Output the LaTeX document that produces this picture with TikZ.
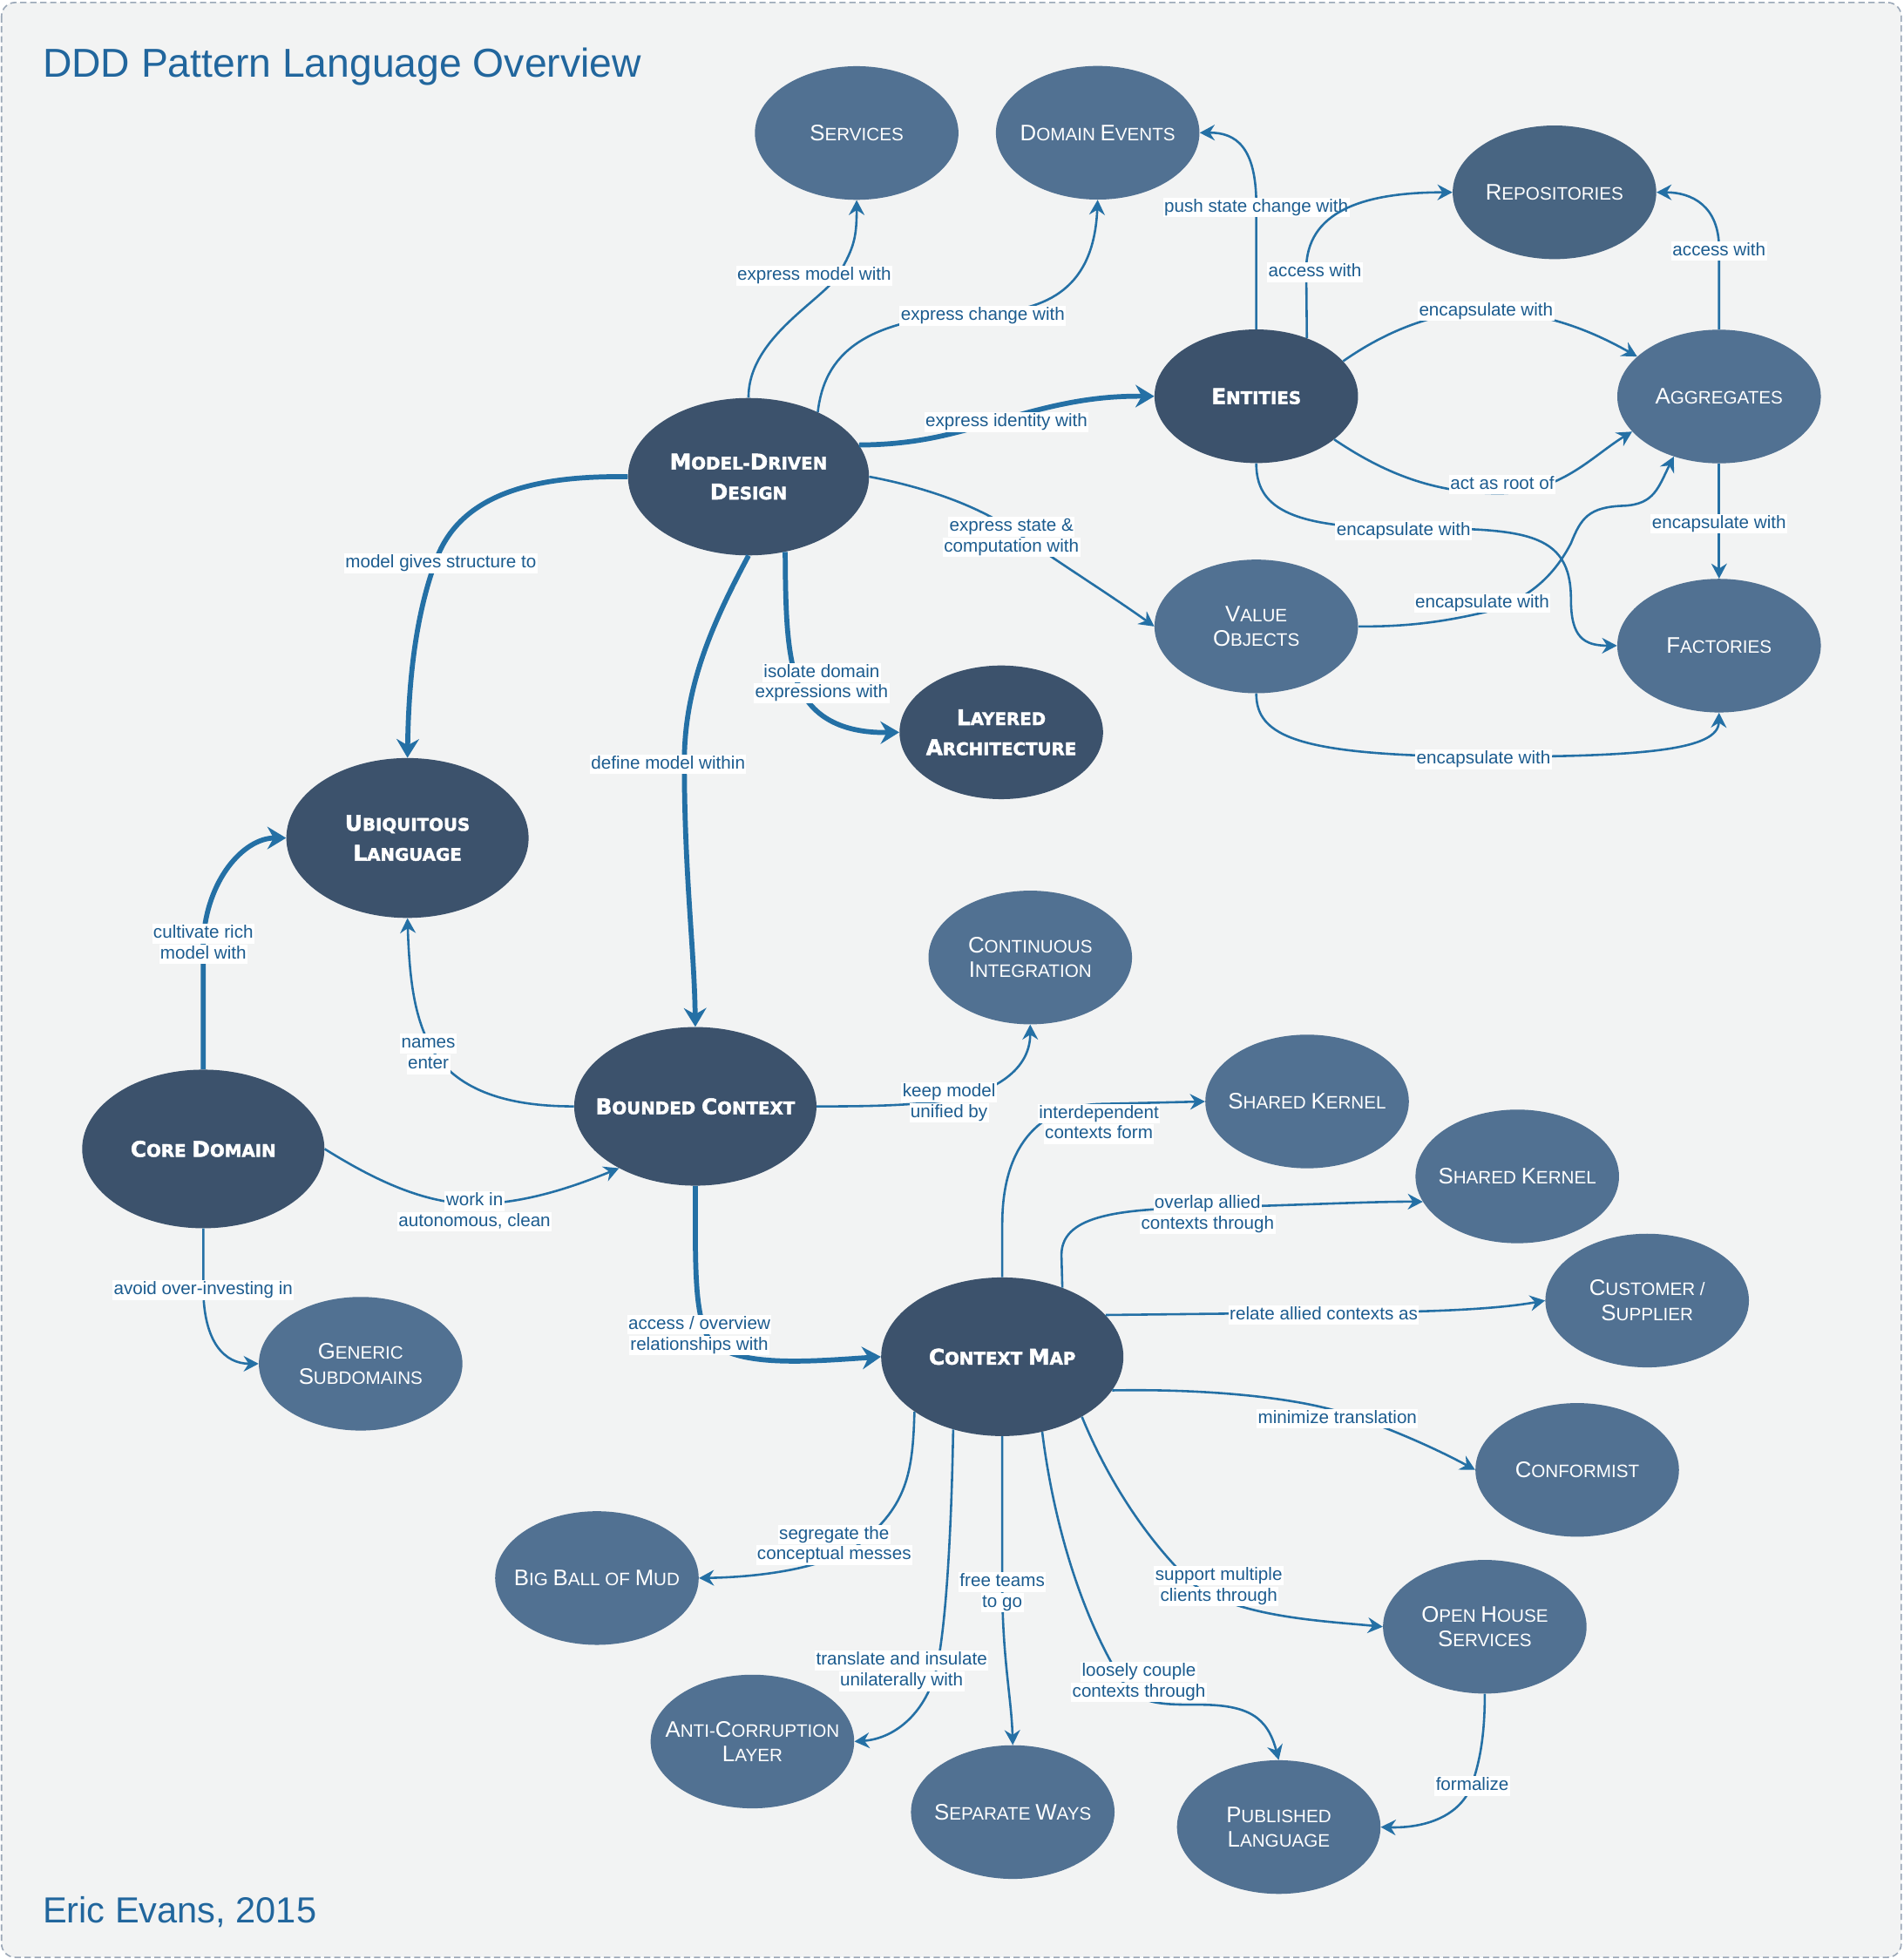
\documentclass[tikz,border=0pt]{standalone}
\usepackage{fontspec}
\setmainfont{Liberation Sans}
\newfontfamily\heavyfam{DejaVu Sans}[BoldFeatures={FakeBold=2.2}]
\usetikzlibrary{shapes.geometric,arrows.meta}

\definecolor{bgc}{HTML}{F2F3F3}
\definecolor{bordc}{HTML}{9AA7B7}
\definecolor{darkn}{HTML}{3C526C}
\definecolor{lightn}{HTML}{517192}
\definecolor{repn}{HTML}{486582}
\definecolor{edgec}{HTML}{2470A5}
\definecolor{labc}{HTML}{1C5C8F}
\definecolor{titlec}{HTML}{21669D}

\newcommand{\Scap}[2]{{\scbig #1}{\scsm #2}}
\newcommand{\lightfont}{\fontsize{14.4}{20}\selectfont\def\scbig{\fontsize{18}{20}\selectfont}\def\scsm{\fontsize{14.4}{20}\selectfont}}
\newcommand{\darkfont}{\heavyfam\bfseries\fontsize{13.8}{24}\selectfont\def\scbig{\fontsize{17.2}{24}\selectfont}\def\scsm{\fontsize{13.8}{24}\selectfont}}
\newcommand{\labfont}{\fontsize{14.4}{16.5}\selectfont}
\newcommand{\lbstrut}{\rule[-3.2pt]{0pt}{13.7pt}}
\newcommand{\lbx}[1]{\colorbox{white}{\lbstrut #1}}
\setlength{\fboxsep}{1pt}

\tikzset{
  light/.style={ellipse, draw=none, fill=lightn, inner sep=0pt, minimum width=163pt, minimum height=107pt},
  repo/.style={light, fill=repn},
  dark/.style={ellipse, draw=none, fill=darkn, inner sep=0pt, minimum width=194pt, minimum height=127pt},
  darksm/.style={dark, minimum width=163pt, minimum height=107pt},
  ltext/.style={text=white, font=\lightfont, align=center, inner sep=0pt},
  dtext/.style={text=white, font=\darkfont, align=center, inner sep=0pt},
  lab/.style={font=\labfont, text=labc, inner sep=0pt, align=center, yshift=-2pt},
  edge/.style={draw=edgec, line width=1.8pt, -{Stealth[length=12pt,width=12.5pt,inset=4pt]}},
  tedge/.style={draw=edgec, line width=4pt, -{Stealth[length=15pt,width=18pt,inset=5pt]}},
}

\begin{document}
\begin{tikzpicture}[x=1pt, y=-1pt]
\fill[white] (0,0) rectangle (1524,1568.66);
\useasboundingbox (0,0) rectangle (1524,1568.66);
\draw[draw=bordc, fill=bgc, line width=1.1pt, dash pattern=on 5pt off 3pt, rounded corners=11pt] (1.2,2) rectangle (1522.5,1567.3);

\node[anchor=base west, inner sep=0pt, text=titlec, font=\fontsize{32.3}{38}\selectfont] (title) at (34,62) {DDD Pattern Language Overview};
\node[anchor=base west, inner sep=0pt, text=titlec, font=\fontsize{29}{34}\selectfont] (author) at (34,1539.4) {Eric Evans, 2015};

% nodes
\node[light] (SER) at (686,106.5) {};
\node[ltext] (SERt) at (SER) {\Scap{S}{ERVICES}};
\node[light] (DE) at (879,106.3) {};
\node[ltext] (DEt) at (DE) {\Scap{D}{OMAIN} \Scap{E}{VENTS}};
\node[repo] (REP) at (1244.8,154) {};
\node[ltext] (REPt) at (REP) {\Scap{R}{EPOSITORIES}};
\node[darksm] (ENT) at (1006,317.3) {};
\node[dtext] (ENTt) at (ENT) {\Scap{E}{NTITIES}};
\node[light] (AGG) at (1376.6,317.5) {};
\node[ltext] (AGGt) at (AGG) {\Scap{A}{GGREGATES}};
\node[dark, minimum width=193pt, minimum height=126pt] (MDD) at (599.4,381.7) {};
\node[dtext] (MDDt) at (MDD) {\Scap{M}{ODEL-}\Scap{D}{RIVEN}\\\Scap{D}{ESIGN}};
\node[light] (VO) at (1006,501.6) {};
\node[ltext] (VOt) at (VO) {\Scap{V}{ALUE}\\\Scap{O}{BJECTS}};
\node[light] (FAC) at (1376.6,517) {};
\node[ltext] (FACt) at (FAC) {\Scap{F}{ACTORIES}};
\node[darksm] (LA) at (801.8,586.4) {};
\node[dtext] (LAt) at (LA) {\Scap{L}{AYERED}\\\Scap{A}{RCHITECTURE}};
\node[dark, minimum height=128pt] (UL) at (326.3,671) {};
\node[dtext] (ULt) at (UL) {\Scap{U}{BIQUITOUS}\\\Scap{L}{ANGUAGE}};
\node[light] (CI) at (825,766.7) {};
\node[ltext] (CIt) at (CI) {\Scap{C}{ONTINUOUS}\\\Scap{I}{NTEGRATION}};
\node[dark] (BC) at (556.8,885.9) {};
\node[dtext] (BCt) at (BC) {\Scap{B}{OUNDED} \Scap{C}{ONTEXT}};
\node[light] (SK1) at (1046.7,882) {};
\node[ltext] (SK1t) at (SK1) {\Scap{S}{HARED} \Scap{K}{ERNEL}};
\node[dark] (CD) at (162.8,920) {};
\node[dtext] (CDt) at (CD) {\Scap{C}{ORE} \Scap{D}{OMAIN}};
\node[light] (SK2) at (1215,942) {};
\node[ltext] (SK2t) at (SK2) {\Scap{S}{HARED} \Scap{K}{ERNEL}};
\node[light] (CS) at (1319,1041.4) {};
\node[ltext] (CSt) at (CS) {\Scap{C}{USTOMER /}\\\Scap{S}{UPPLIER}};
\node[light] (GS) at (288.8,1092) {};
\node[ltext] (GSt) at (GS) {\Scap{G}{ENERIC}\\\Scap{S}{UBDOMAINS}};
\node[dark] (CM) at (802.6,1086.4) {};
\node[dtext] (CMt) at (CM) {\Scap{C}{ONTEXT} \Scap{M}{AP}};
\node[light] (CF) at (1263,1177) {};
\node[ltext] (CFt) at (CF) {\Scap{C}{ONFORMIST}};
\node[light] (BBM) at (478,1263.6) {};
\node[ltext] (BBMt) at (BBM) {\Scap{B}{IG} \Scap{B}{ALL OF} \Scap{M}{UD}};
\node[light] (OHS) at (1189,1302.6) {};
\node[ltext] (OHSt) at (OHS) {\Scap{O}{PEN} \Scap{H}{OUSE}\\\Scap{S}{ERVICES}};
\node[light] (ACL) at (602.5,1394.5) {};
\node[ltext] (ACLt) at (ACL) {\Scap{A}{NTI-}\Scap{C}{ORRUPTION}\\\Scap{L}{AYER}};
\node[light] (SW) at (811,1451) {};
\node[ltext] (SWt) at (SW) {\Scap{S}{EPARATE} \Scap{W}{AYS}};
\node[light] (PL) at (1024,1463) {};
\node[ltext] (PLt) at (PL) {\Scap{P}{UBLISHED}\\\Scap{L}{ANGUAGE}};

% edges from Model-Driven Design
\draw[edge] (MDD.north) .. controls (599,270) and (660,240) .. (672,219) node[lab,xshift=-20pt]{\lbx{express model with}} .. controls (684,198) and (686,190) .. (SER.south);
\draw[edge] (MDD.43) .. controls (660,285) and (690,254) .. (787,251) node[lab]{\lbx{express change with}} .. controls (840,249) and (876,230) .. (DE.south);
\draw[tedge] (MDD.16) .. controls (740,356) and (770,345) .. (803,336) node[lab,xshift=3pt]{\lbx{express identity with}} .. controls (850,322) and (880,317) .. (ENT.west);
\draw[edge] (MDD.east) .. controls (740,390) and (785,405) .. (816,428) node[lab,xshift=-6pt]{\lbx{express state \&}\\\lbx{computation with}} .. controls (850,452) and (890,477) .. (VO.west);
\draw[tedge] (MDD.west) .. controls (440,381) and (370,390) .. (349,449) node[lab,xshift=4pt]{\lbx{model gives structure to}} .. controls (330,500) and (327,560) .. (UL.north);
\draw[tedge] (MDD.south) .. controls (570,500) and (548,550) .. (548,610) node[lab,xshift=-13pt]{\lbx{define model within}} .. controls (548,700) and (556,760) .. (BC.north);
\draw[tedge] (MDD.-64) .. controls (629,490) and (630,520) .. (638,545) node[lab,xshift=20pt]{\lbx{isolate domain}\\\lbx{expressions with}} .. controls (650,578) and (680,587) .. (LA.west);

% edges from Entities
\draw[edge] (ENT.north) -- (1006,164) node[lab]{\lbx{push state change with}} .. controls (1006,118) and (990,106) .. (DE.east);
\draw[edge] (ENT.49) -- (1046,216) node[lab,xshift=7pt]{\lbx{access with}} .. controls (1046,170) and (1090,154) .. (REP.west);
\draw[edge] (ENT.22) .. controls (1110,265) and (1150,249) .. (1190,249) node[lab,yshift=2pt]{\lbx{encapsulate with}} .. controls (1240,249) and (1280,268) .. (AGG.154);
\draw[edge] (ENT.-29) .. controls (1110,380) and (1150,395) .. (1200,395) node[lab,xshift=3pt,yshift=9pt]{\lbx{act as root of}} .. controls (1250,395) and (1275,365) .. (AGG.202);
\draw[edge] (ENT.south) .. controls (1006,405) and (1030,423) .. (1124,423) node[lab]{\lbx{encapsulate with}} .. controls (1220,423) and (1258,425) .. (1258,480) .. controls (1258,510) and (1268,517) .. (FAC.west);

% edges from Value Objects and Aggregates
\draw[edge] (VO.east) .. controls (1130,502) and (1160,497) .. (1190,490) node[lab,xshift=-3pt,yshift=9pt]{\lbx{encapsulate with}} .. controls (1225,480) and (1245,460) .. (1258,435) .. controls (1266,415) and (1272,406) .. (1300,405) .. controls (1325,404) and (1328,390) .. (AGG.233);
\draw[edge] (VO.south) .. controls (1006,590) and (1040,605) .. (1188,606) node[lab]{\lbx{encapsulate with}} .. controls (1320,606) and (1376,600) .. (FAC.south);
\draw[edge] (AGG.north) -- (1376.6,199) node[lab]{\lbx{access with}} .. controls (1376.6,165) and (1355,154) .. (REP.east);
\draw[edge] (AGG.south) -- node[lab]{\lbx{encapsulate with}} (FAC.north);

% edges from Core Domain
\draw[tedge] (CD.north) -- (162.8,754) node[lab]{\lbx{cultivate rich}\\\lbx{model with}} .. controls (165,705) and (195,671) .. (UL.west);
\draw[edge] (CD.east) .. controls (300,945) and (340,964) .. (380,964) node[lab,yshift=-4pt]{\lbx{work in}\\\lbx{autonomous, clean}} .. controls (420,964) and (460,950) .. (BC.219);
\draw[edge] (CD.south) -- (162.8,1031) node[lab]{\lbx{avoid over-investing in}} .. controls (162.8,1075) and (180,1092) .. (GS.west);

% edges from Bounded Context
\draw[edge] (BC.west) .. controls (400,886) and (365,870) .. (347,842) node[lab,xshift=-4pt]{\lbx{names}\\\lbx{enter}} .. controls (333,818) and (328,790) .. (UL.south);
\draw[edge] (BC.east) .. controls (700,886) and (730,885) .. (760,881) node[lab]{\lbx{keep model}\\\lbx{unified by}} .. controls (790,876) and (825,860) .. (CI.south);
\draw[tedge] (BC.south) .. controls (556.8,1010) and (556,1045) .. (565,1067) node[lab,xshift=-5pt]{\lbx{access / overview}\\\lbx{relationships with}} .. controls (578,1097) and (650,1090) .. (CM.west);

% edges from Context Map
\draw[edge] (CM.north) -- (802.6,980) .. controls (802.6,920) and (830,886) .. (880,884) node[lab,yshift=-14pt]{\lbx{interdependent}\\\lbx{contexts form}} -- (SK1.west);
\draw[edge] (CM.49) -- (850,1005) .. controls (850,975) and (890,968) .. (962,967) node[lab,xshift=5pt,yshift=-3pt]{\lbx{overlap allied}\\\lbx{contexts through}} .. controls (1040,965) and (1100,962) .. (SK2.195);
\draw[edge] (CM.22) -- (1060,1051) node[lab]{\lbx{relate allied contexts as}} .. controls (1150,1051) and (1200,1048) .. (CS.west);
\draw[edge] (CM.-17) .. controls (960,1112) and (1030,1118) .. (1071,1130) node[lab,yshift=-4pt]{\lbx{minimize translation}} .. controls (1110,1142) and (1150,1160) .. (CF.west);
\draw[edge] (CM.212) .. controls (731,1180) and (726,1205) .. (690,1235) node[lab,xshift=-22pt]{\lbx{segregate the}\\\lbx{conceptual messes}} .. controls (660,1258) and (600,1263) .. (BBM.east);
\draw[edge] (CM.236) .. controls (762,1220) and (758,1300) .. (750,1336) node[lab,xshift=-28pt]{\lbx{translate and insulate}\\\lbx{unilaterally with}} .. controls (742,1370) and (718,1392) .. (ACL.east);
\draw[edge] (CM.south) -- (802.6,1273) node[lab]{\lbx{free teams}\\\lbx{to go}} .. controls (803,1330) and (810,1360) .. (SW.north);
\draw[edge] (CM.-62) .. controls (845,1230) and (870,1300) .. (898,1345) node[lab,xshift=14pt]{\lbx{loosely couple}\\\lbx{contexts through}} .. controls (910,1365) and (930,1365) .. (960,1365) .. controls (1000,1365) and (1015,1375) .. (PL.north);
\draw[edge] (CM.-37) .. controls (885,1180) and (915,1230) .. (955,1268) node[lab,xshift=21pt]{\lbx{support multiple}\\\lbx{clients through}} .. controls (990,1295) and (1060,1298) .. (OHS.west);
\draw[edge] (OHS.south) .. controls (1189,1390) and (1185,1410) .. (1179,1428) node[lab]{\lbx{formalize}} .. controls (1170,1455) and (1140,1464) .. (PL.east);
\end{tikzpicture}
\end{document}
